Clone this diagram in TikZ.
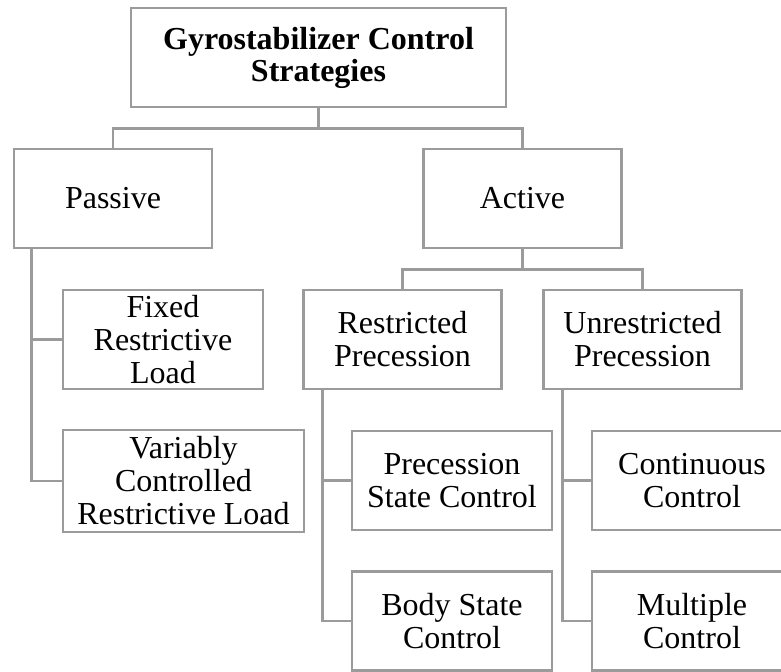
\documentclass[tikz,border=0pt]{standalone}
\usepackage{fontspec}
\setmainfont{Liberation Serif}
\usepackage{tikz}

\begin{document}
\begin{tikzpicture}[x=0.5pt,y=-0.5pt,
	box/.style={draw=linegray,line width=1.4pt,rectangle,align=center,inner sep=0pt,
		minimum width=99pt,minimum height=49.5pt,font=\fontsize{16}{16.5}\selectfont},
	link/.style={draw=linegray,line width=1.4pt}]

	\definecolor{linegray}{RGB}{155,155,155}
	\clip (0,0) rectangle (781,671);

	\node[box,minimum width=187.5pt,font=\fontsize{16}{16}\selectfont\bfseries] (top) at (318.5,57.5) {Gyrostabilizer Control\\Strategies};
	\node[box] (passive) at (113,198.5) {Passive};
	\node[box] (active) at (522.5,198.5) {Active};
	\node[box,minimum width=100pt] (fixed) at (163,339.5) {Fixed\\Restrictive\\Load};
	\node[box,minimum width=120.5pt,minimum height=51pt] (variably) at (183.5,481) {Variably\\Controlled\\Restrictive Load};
	\node[box] (restricted) at (402.5,339.5) {Restricted\\Precession};
	\node[box] (unrestricted) at (642.5,339.5) {Unrestricted\\Precession};
	\node[box,minimum width=100pt] (precstate) at (452,480.5) {Precession\\State Control};
	\node[box,minimum width=100pt] (bodystate) at (452,621) {Body State\\Control};
	\node[box,minimum width=100pt] (continuous) at (692,480.5) {Continuous\\Control};
	\node[box,minimum width=100pt] (multiple) at (692,621) {Multiple\\Control};

	\draw[link] (top.south) -- ++(0,20) -| (passive.north);
	\draw[link] (top.south) -- ++(0,20) -| (active.north);
	\draw[link] (active.south) -- ++(0,20) -| (restricted.north);
	\draw[link] (active.south) -- ++(0,20) -| (unrestricted.north);
	\draw[link] ([xshift=9.5pt]passive.south west) |- (fixed.west);
	\draw[link] ([xshift=9.5pt]passive.south west) |- (variably.west);
	\draw[link] ([xshift=10pt]restricted.south west) |- (precstate.west);
	\draw[link] ([xshift=10pt]restricted.south west) |- (bodystate.west);
	\draw[link] ([xshift=10pt]unrestricted.south west) |- (continuous.west);
	\draw[link] ([xshift=10pt]unrestricted.south west) |- (multiple.west);

\end{tikzpicture}
\end{document}
